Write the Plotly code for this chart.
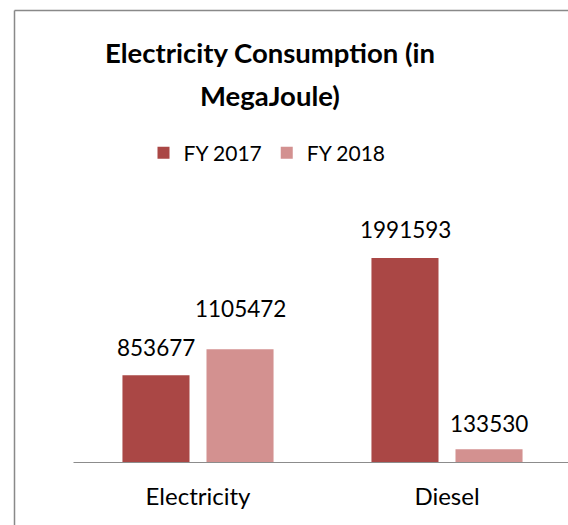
import plotly.graph_objects as go

categories = ["Electricity", "Diesel"]
fy2017 = [853677, 1991593]
fy2018 = [1105472, 133530]
series_names = ["FY 2017", "FY 2018"]
title_lines = ["Electricity Consumption (in", "MegaJoule)"]

W, H = 568, 525
FONT = "Lato"
colors = ["#AA4745", "#D39190"]

# pixel layout helpers
x0_px, x1_px = 73.5, 568.0
y_bottom_px, y_top_px = 463.0, 190.0
cat_px = 249.0
px_per_unit = 205.0 / max(fy2017)
ymax = (y_bottom_px - y_top_px) / px_per_unit

fig = go.Figure()
for name, vals, col in zip(series_names, [fy2017, fy2018], colors):
    fig.add_trace(go.Bar(x=categories, y=vals, name=name, marker_color=col,
                         marker_line_width=0))

# data labels
label_lift = {("FY 2017", 0): 12, ("FY 2018", 0): 25, ("FY 2017", 1): 13, ("FY 2018", 1): 10}
for si, (name, vals) in enumerate(zip(series_names, [fy2017, fy2018])):
    for ci, v in enumerate(vals):
        fig.add_annotation(x=categories[ci], y=v, xref="x", yref="y",
                           text=str(v), showarrow=False, yanchor="bottom",
                           xshift=(-42 if si == 0 else 42),
                           yshift=label_lift[(name, ci)],
                           font=dict(family=FONT, size=22.5, color="#000000"))

for i, line in enumerate(title_lines):
    fig.add_annotation(x=270 / W, y=1 - (53 + 42 * i) / H, xref="paper", yref="paper",
                       text="<b>" + line + "</b>", showarrow=False,
                       xanchor="center", yanchor="middle",
                       font=dict(family=FONT, size=27.5, color="#000000"))

# chart-area border (only top and left edges fall inside the picture)
border = dict(color="#898989", width=1.5)
fig.add_shape(type="line", xref="paper", yref="paper",
              x0=14.5 / W, x1=1.0, y0=1 - 10.5 / H, y1=1 - 10.5 / H, line=border, layer="above")
fig.add_shape(type="line", xref="paper", yref="paper",
              x0=14.5 / W, x1=14.5 / W, y0=0.0, y1=1 - 10.5 / H, line=border, layer="above")

fig.update_layout(
    width=W, height=H,
    margin=dict(l=0, r=0, t=0, b=0),
    paper_bgcolor="white", plot_bgcolor="white",
    barmode="group", bargap=0.325, bargroupgap=0.202,
    showlegend=True,
    legend=dict(orientation="h", x=267 / W, xanchor="center", y=1 - 153 / H, yanchor="middle",
                font=dict(family=FONT, size=21, color="#000000"), itemclick=False),
    xaxis=dict(domain=[x0_px / W, 1.0], range=[-0.5, -0.5 + (x1_px - x0_px) / cat_px],
               showline=False, ticks="", showgrid=False,
               tickfont=dict(family=FONT, size=24, color="#000000"), ticklabelstandoff=17),
    yaxis=dict(domain=[1 - y_bottom_px / H, 1 - y_top_px / H], range=[0, ymax],
               visible=False, showgrid=False, zeroline=False),
    font=dict(family=FONT),
)
fig.add_shape(type="line", xref="paper", yref="y", x0=x0_px / W, x1=1.0, y0=0, y1=0,
              line=dict(color="#8C8C8C", width=2), layer="above")

post = """
document.body.style.margin='0';
"""
fig.write_html("out.html", post_script=post, config={"displayModeBar": False})
